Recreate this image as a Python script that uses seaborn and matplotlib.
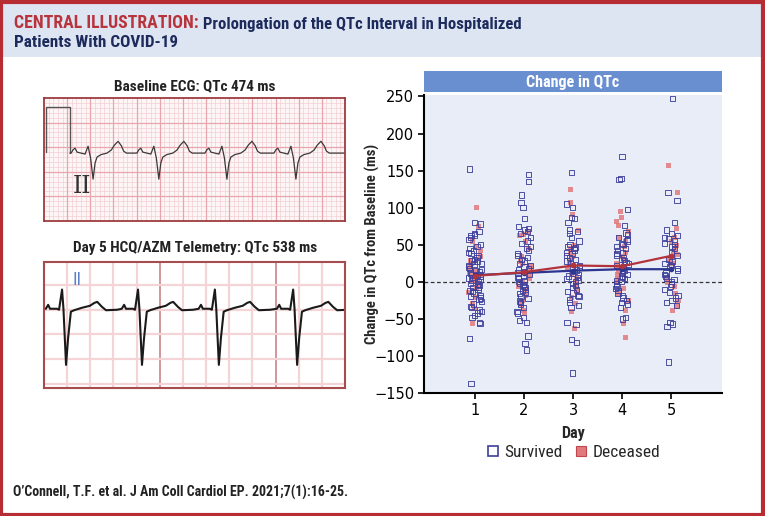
import numpy as np
import pandas as pd
import seaborn as sns
import matplotlib.pyplot as plt
from matplotlib import font_manager
from matplotlib.patches import Rectangle
from matplotlib.lines import Line2D

# --- data ---
days = [1, 2, 3, 4, 5]

survived = {
    1: [152, 80, 78, 68, 65, 63, 62, 60, 57, 50, 48, 45, 42, 40, 38, 35, 33, 30, 28, 27, 25, 24, 22, 20, 18,
        17, 15, 14, 12, 10, 9, 8, 6, 5, 3, 2, 0, -2, -3, -5, -7, -8, -10, -12, -13, -15, -18, -20, -22, -24,
        -27, -30, -33, -35, -38, -40, -42, -45, -48, -55, -56, -76, -137],
    2: [145, 135, 117, 107, 100, 85, 75, 72, 70, 68, 65, 60, 55, 52, 48, 45, 42, 38, 35, 33, 30, 28, 25, 22,
        20, 18, 16, 14, 12, 10, 8, 6, 4, 2, 0, -2, -4, -6, -8, -10, -12, -14, -16, -20, -23, -26, -28, -30,
        -35, -40, -42, -48, -52, -55, -73, -83, -92],
    3: [147, 105, 100, 87, 85, 80, 70, 68, 65, 60, 55, 50, 48, 46, 45, 43, 40, 38, 35, 33, 30, 28, 25, 22,
        20, 18, 16, 14, 12, 10, 8, 6, 4, 2, 0, -2, -5, -8, -10, -13, -15, -18, -20, -24, -28, -32, -35, -55,
        -58, -78, -82, -123],
    4: [169, 139, 138, 98, 76, 66, 64, 60, 57, 55, 52, 50, 48, 45, 42, 40, 38, 36, 33, 30, 28, 26, 24, 22,
        20, 18, 16, 14, 12, 10, 8, 6, 4, 2, 0, -3, -6, -9, -12, -15, -18, -22, -25, -28, -30, -35, -48, -50],
    5: [247, 120, 110, 80, 70, 65, 62, 60, 58, 55, 52, 50, 48, 45, 40, 35, 30, 27, 25, 22, 20, 18, 15, 12,
        10, 8, 5, 3, 0, -3, -6, -10, -14, -18, -22, -25, -28, -32, -55, -57, -60, -108],
}
deceased = {
    1: [101, 75, 55, 48, 43, 35, 30, 25, 20, 15, 12, 8, 5, 2, -3, -8, -14, -20, -28, -35, -55],
    2: [68, 65, 63, 55, 45, 35, 28, 25, 22, 18, 14, 10, 5, 0, -5, -10, -18, -25, -30, -38, -42],
    3: [125, 107, 92, 70, 50, 45, 40, 35, 30, 26, 22, 18, 14, 10, 5, 0, -5, -12, -20, -28, -40, -62],
    4: [96, 88, 82, 76, 68, 60, 55, 48, 40, 35, 30, 25, 20, 15, 10, 5, 0, -8, -15, -25, -38, -55, -74],
    5: [158, 121, 72, 60, 55, 50, 45, 40, 38, 35, 30, 25, 5, 0, -5, -15, -25, -32, -38],
}
mean_survived = [9, 12, 15, 17, 17]
mean_deceased = [8, 13, 22, 21, 35]
yticks = [-150, -100, -50, 0, 50, 100, 150, 200, 250]

# ECG traces (mm units, 25 mm/s paper); beat templates relative to the QRS
ecg1_baseline = 13.8
ecg1_calib_x = [0.4, 0.4, 5.6, 5.6]
ecg1_calib_y = [14.0, 23.2, 23.2, 13.8]
ecg1_beats = [10.6, 24.8, 39.5, 54.4]
ecg1_dt = [-4.75, -4.3, -3.9, -3.46, -2.6, -1.73, -1.08, -0.54, 0, 0.43, 0.86, 1.73, 3.0, 3.9, 4.6, 5.4,
           6.1, 6.6, 7.2]
ecg1_amp = [0, 0.7, 1.0, 0.2, 0, -0.2, 1.4, -1.0, -5.3, -2.0, -0.8, -0.3, 0, 0.6, 1.6, 2.4, 1.5, 0.4, 0]

ecg2_baseline = 16.1
ecg2_beats = [3.9, 20.3, 36.9, 53.8]
ecg2_dt = [-3.5, -3.0, -2.6, -1.1, -0.65, 0, 0.3, 0.86, 1.3, 1.9, 2.6, 4.3, 6.0, 7.0, 7.6, 8.6, 9.5, 11.9]
ecg2_amp = [0, 0.8, 0, 0, -0.2, 3.9, 0, -11.4, -6, -0.6, -0.3, 0.2, 0.6, 1.2, 1.4, 0.4, -0.3, -0.2]

# --- style ---
sns.set_theme(style="white")
names = {f.name for f in font_manager.fontManager.ttflist}
narrow = next((n for n in ["Liberation Sans Narrow", "DejaVu Sans Condensed", "Roboto Condensed"]
               if n in names), "DejaVu Sans")
plt.rcParams["font.family"] = [narrow, "DejaVu Sans"]

RED = "#b72b32"
NAVY = "#1d2b5c"
SURV = "#3d3f9c"
DEC = "#e07a7e"

fig = plt.figure(figsize=(7.65, 5.16), dpi=100)
fig.patch.set_facecolor("white")

# background canvas in pixel coords
bg = fig.add_axes([0, 0, 1, 1], zorder=-5)
bg.set_xlim(0, 765)
bg.set_ylim(516, 0)
bg.axis("off")
bg.add_patch(Rectangle((3, 3), 759, 54, facecolor="#dde4f2", edgecolor="none"))
bg.add_patch(Rectangle((1.5, 1.5), 762, 513, facecolor="none", edgecolor=RED, lw=3))

t1 = bg.text(14, 28.5, "CENTRAL ILLUSTRATION:", color="#b8333b", fontsize=12.8,
             fontweight="bold", va="baseline")
bg.annotate(" Prolongation of the QTc Interval in Hospitalized", xy=(1, 0), xycoords=t1,
            va="bottom", ha="left", color=NAVY, fontsize=12, fontweight="bold")
bg.text(14, 47, "Patients With COVID-19", color=NAVY, fontsize=12.3, fontweight="bold",
        va="baseline")
bg.text(13, 497, "O\u2019Connell, T.F. et al. J Am Coll Cardiol EP. 2021;7(1):16-25.",
        color="#222222", fontsize=10, fontweight="bold", va="baseline")
bg.text(195, 90, "Baseline ECG: QTc 474 ms", ha="center", va="baseline", fontsize=11,
        fontweight="bold", color="#222222")
bg.text(195, 252, "Day 5 HCQ/AZM Telemetry: QTc 538 ms", ha="center", va="baseline",
        fontsize=11, fontweight="bold", color="#222222")


def build_trace(beats, dt, amp, base, start, end):
    xs, ys = [start], [base]
    for b in beats:
        xs += [b + d for d in dt]
        ys += [base + a for a in amp]
    xs.append(end)
    ys.append(base)
    return xs, ys


# --- ECG 1 ---
e1 = fig.add_axes([44 / 765, (516 - 221) / 516, 301 / 765, 123 / 516])
e1.set_facecolor("#fdf6f6")
e1.set_xlim(0, 65)
e1.set_ylim(0, 25)
for v in np.arange(1, 65):
    e1.axvline(v, color="#f4d0d4", lw=0.5, zorder=0)
for v in np.arange(1, 25):
    e1.axhline(v, color="#f4d0d4", lw=0.5, zorder=0)
for v in np.arange(5, 65, 5):
    e1.axvline(v, color="#e7a6ad", lw=0.9, zorder=0)
for v in np.arange(5, 25, 5):
    e1.axhline(v, color="#e7a6ad", lw=0.9, zorder=0)
x1, y1 = build_trace(ecg1_beats, ecg1_dt, ecg1_amp, ecg1_baseline, 5.6, 65)
e1.plot(ecg1_calib_x, ecg1_calib_y, color="#555555", lw=1.0)
sns.lineplot(x=x1, y=y1, ax=e1, sort=False, estimator=None, color="#3a3a3a", lw=0.9)
e1.text(8.2, 7.0, "II", family="DejaVu Serif", fontsize=17, color="#333333", ha="center", va="center")
e1.set_xticks([])
e1.set_yticks([])
for s in e1.spines.values():
    s.set_color("#9e3b3e")
    s.set_linewidth(1.3)

# --- ECG 2 ---
e2 = fig.add_axes([44 / 765, (516 - 388) / 516, 301 / 765, 126 / 516])
e2.set_facecolor("white")
e2.set_xlim(0, 65)
e2.set_ylim(0, 25.6)
for v in np.arange(5, 65, 5):
    heavy = v in (25, 50)
    e2.axvline(v, color="#c98589" if heavy else "#f4d4d6", lw=1.2 if heavy else 1.6, zorder=0)
for v in np.arange(0.9, 25, 5):
    e2.axhline(v, color="#f4d4d6", lw=1.6, zorder=0)
x2, y2 = build_trace(ecg2_beats, ecg2_dt, ecg2_amp, ecg2_baseline, 0, 65)
sns.lineplot(x=x2, y=y2, ax=e2, sort=False, estimator=None, color="#1a1a1a", lw=1.5)
e2.text(7.1, 22, "II", fontsize=13, color="#5b7fc7", ha="center", va="center")
e2.set_xticks([])
e2.set_yticks([])
for s in e2.spines.values():
    s.set_color("#a64b4e")
    s.set_linewidth(1.5)

# --- scatter panel ---
rows = []
for d in days:
    rows += [(d, v, "Survived") for v in survived[d]]
    rows += [(d, v, "Deceased") for v in deceased[d]]
df = pd.DataFrame(rows, columns=["day", "change", "outcome"])

ax = fig.add_axes([424 / 765, (516 - 393) / 516, 298 / 765, 298 / 516])
ax.set_facecolor("#e9edf8")
np.random.seed(3)
sns.stripplot(data=df[df.outcome == "Deceased"], x="day", y="change", native_scale=True,
              jitter=0.14, marker="s", size=3.6, color=DEC, alpha=0.85, linewidth=0, ax=ax)
n1 = len(ax.collections)
sns.stripplot(data=df[df.outcome == "Survived"], x="day", y="change", native_scale=True,
              jitter=0.14, marker="s", size=3.8, color=SURV, linewidth=0.7, ax=ax)
for c in ax.collections[n1:]:
    c.set_facecolor("none")
    c.set_edgecolor(SURV)
    c.set_alpha(0.9)

ax.axhline(0, color="#333333", lw=0.9, ls=(0, (3, 2)), zorder=1)
sns.lineplot(x=days, y=mean_survived, ax=ax, color="#2c3590", lw=1.6, marker="o", markersize=4,
             markeredgewidth=0, zorder=5)
sns.lineplot(x=days, y=mean_deceased, ax=ax, color="#b2333b", lw=1.6, marker="o", markersize=4,
             markeredgewidth=0, zorder=5)

ax.set_xlim(-0.04, 6.04)
ax.set_ylim(-150, 252)
ax.set_xticks(days)
ax.set_yticks(yticks)
ax.tick_params(axis="both", direction="out", length=4, width=1.2, colors="black",
               left=True, bottom=True, pad=3)
for lab in ax.get_xticklabels() + ax.get_yticklabels():
    lab.set_family("DejaVu Sans")
    lab.set_fontsize(10.5)
ax.set_xlabel("Day", fontsize=11.5, fontweight="bold", labelpad=6)
ax.set_ylabel("Change in QTc from Baseline (ms)", fontsize=10.5, fontweight="bold")
ax.yaxis.set_label_coords(-0.148, 0.5)
sns.despine(ax=ax)
for s in ("left", "bottom"):
    ax.spines[s].set_color("black")
    ax.spines[s].set_linewidth(1.5)

hdr = fig.add_axes([424 / 765, (516 - 92) / 516, 298 / 765, 21 / 516])
hdr.set_facecolor("#6a8fd1")
hdr.set_xticks([])
hdr.set_yticks([])
for s in hdr.spines.values():
    s.set_visible(False)
hdr.text(0.5, 0.45, "Change in QTc", ha="center", va="center", color="white", fontsize=11.5,
         fontweight="bold", transform=hdr.transAxes)

handles = [
    Line2D([], [], ls="none", marker="s", markersize=7, markerfacecolor="none",
           markeredgecolor=SURV, markeredgewidth=1.2),
    Line2D([], [], ls="none", marker="s", markersize=7, markerfacecolor=DEC,
           markeredgecolor="#c0474d", markeredgewidth=0.8),
]
fig.legend(handles, ["Survived", "Deceased"], loc="center", bbox_to_anchor=(573 / 765, 1 - 452 / 516),
           ncol=2, frameon=False, handletextpad=0.2, columnspacing=0.6, handlelength=0.9,
           prop={"size": 12.5})

fig.savefig("out.png", dpi=100)
